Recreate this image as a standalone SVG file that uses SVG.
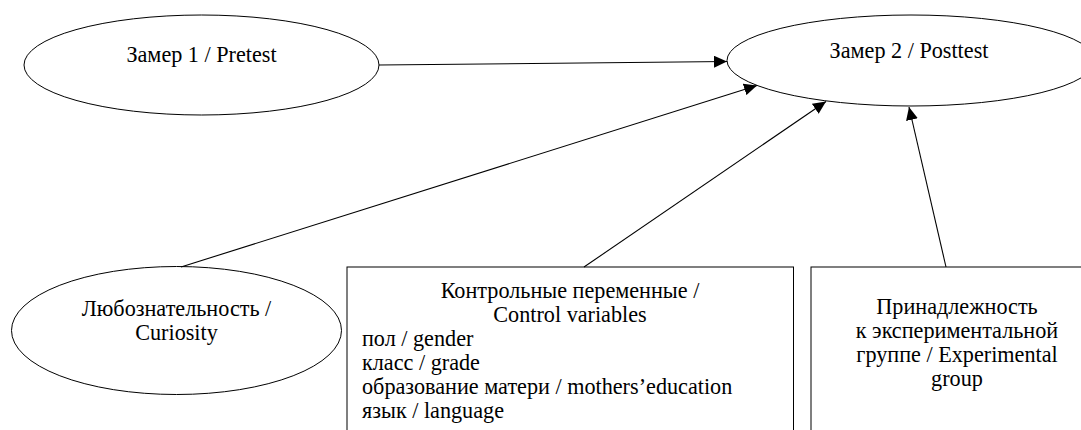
<svg xmlns="http://www.w3.org/2000/svg" width="1081" height="430" viewBox="0 0 1081 430">
<style>
.shape{fill:#ffffff;stroke:#000000;stroke-width:1}
.t{font-family:'Liberation Serif',Tinos,'Times New Roman',Times,'Noto Serif','DejaVu Serif',serif;font-size:22.2px;fill:#000000}
.c{text-anchor:middle}
.edge{stroke:#000000;stroke-width:1.1;fill:none;marker-end:url(#arr)}
</style>
<defs>
<marker id="arr" markerUnits="userSpaceOnUse" markerWidth="14" markerHeight="12" refX="13" refY="6" orient="auto">
<path d="M0,0 L13,6 L0,12 z" fill="#000000"/>
</marker>
</defs>
<rect width="1081" height="430" fill="#ffffff"/>
<g id="pretest">
<ellipse class="shape" cx="201.5" cy="65" rx="177.5" ry="50"/>
<text class="t c" x="201.5" y="62">Замер 1 / Pretest</text>
</g>
<g id="posttest">
<ellipse class="shape" cx="911" cy="60.5" rx="184" ry="45.5"/>
<text class="t c" x="909" y="58">Замер 2 / Posttest</text>
</g>
<g id="curiosity">
<ellipse class="shape" cx="176.5" cy="330.5" rx="165" ry="64"/>
<text class="t c" x="176.5" y="316">Любознательность /</text>
<text class="t c" x="176.5" y="340">Curiosity</text>
</g>
<g id="control">
<rect class="shape" x="347" y="267" width="446.5" height="180"/>
<text class="t c" x="570" y="298">Контрольные переменные /</text>
<text class="t c" x="570" y="322">Control variables</text>
<text class="t" x="362" y="346">пол / gender</text>
<text class="t" x="362" y="370">класс / grade</text>
<text class="t" x="362" y="394">образование матери / mothers’education</text>
<text class="t" x="362" y="418">язык / language</text>
</g>
<g id="experimental">
<rect class="shape" x="811" y="267" width="292" height="180"/>
<text class="t c" x="957" y="314">Принадлежность</text>
<text class="t c" x="957" y="338">к экспериментальной</text>
<text class="t c" x="957" y="362">группе / Experimental</text>
<text class="t c" x="957" y="386">group</text>
</g>
<g id="connectors">
<line class="edge" x1="379" y1="65" x2="727" y2="61.5"/>
<line class="edge" x1="181" y1="267" x2="757" y2="85.5"/>
<line class="edge" x1="584" y1="267" x2="826" y2="101.5"/>
<line class="edge" x1="946" y1="267" x2="909" y2="107"/>
</g>
</svg>
